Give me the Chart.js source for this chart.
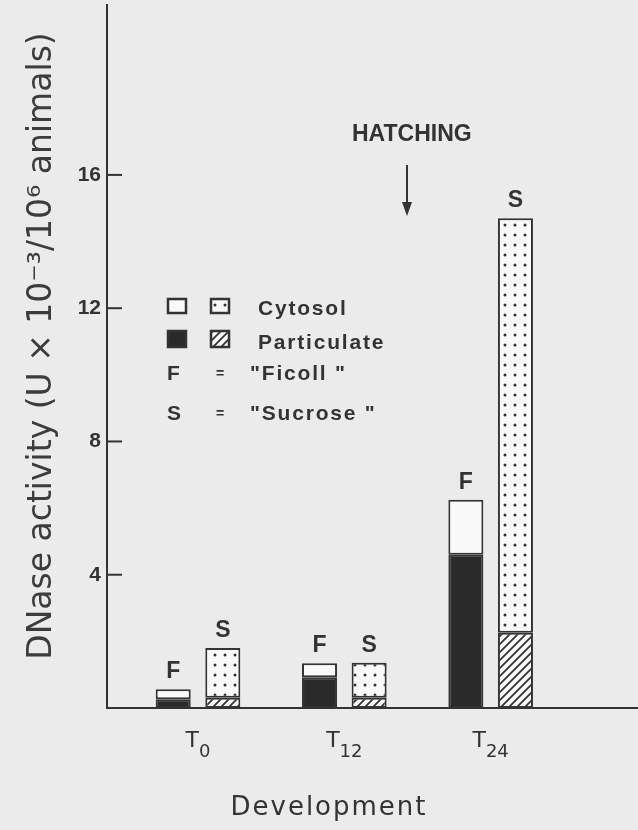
<!DOCTYPE html>
<html lang="en">
<head>
<meta charset="UTF-8">
<title>DNase activity during development</title>
<script src="https://cdn.jsdelivr.net/npm/chart.js"></script>
<style>
  body { margin: 0; background: #ebebeb; }
  canvas { display: block; }
</style>
</head>
<body>
<canvas id="dnaseChart" width="638" height="830"></canvas>
<script>
// stages on the x axis (T + subscript)
const stages = ['T0', 'T12', 'T24'];
// DNase activity, U x 10^-3 / 10^6 animals
const ficollParticulate = [0.26, 0.92, 4.6];
const ficollCytosol = [0.30, 0.42, 1.65];
const sucroseParticulate = [0.31, 0.31, 2.26];
const sucroseCytosol = [1.49, 1.05, 12.44];
const yTicks = [4, 8, 12, 16];

const ink = '#333';
const canvas = document.getElementById('dnaseChart');
const ctx = canvas.getContext('2d');

function dotPattern() {
  const c = document.createElement('canvas');
  c.width = 10; c.height = 10;
  const g = c.getContext('2d');
  g.fillStyle = '#f9f9f9';
  g.fillRect(0, 0, 10, 10);
  g.fillStyle = ink;
  g.beginPath();
  g.arc(5, 5, 1.5, 0, Math.PI * 2);
  g.fill();
  return ctx.createPattern(c, 'repeat');
}

function hatchPattern() {
  const s = 8;
  const c = document.createElement('canvas');
  c.width = s; c.height = s;
  const g = c.getContext('2d');
  g.fillStyle = '#f9f9f9';
  g.fillRect(0, 0, s, s);
  g.strokeStyle = ink;
  g.lineWidth = 1.8;
  g.beginPath();
  g.moveTo(0, s); g.lineTo(s, 0);
  g.moveTo(-2, 2); g.lineTo(2, -2);
  g.moveTo(s - 2, s + 2); g.lineTo(s + 2, s - 2);
  g.stroke();
  return ctx.createPattern(c, 'repeat');
}

const dots = dotPattern();
const hatch = hatchPattern();

const toPoints = arr => arr.map((v, i) => ({ x: i, y: v }));

function barSet(label, data, stack, fill) {
  return {
    label: label,
    data: toPoints(data),
    stack: stack,
    backgroundColor: fill,
    borderColor: ink,
    borderWidth: 2,
    borderSkipped: false
  };
}

function txt(text, x, y, font, align, spacing) {
  ctx.font = font;
  ctx.textAlign = align || 'left';
  ctx.letterSpacing = spacing || '0px';
  ctx.fillText(text, x, y);
}

// no extra padding from tick labels, the plot box is fixed by the layout
function noPad(s) {
  s.paddingTop = 0; s.paddingBottom = 0;
  s.paddingLeft = 0; s.paddingRight = 0;
}

const extras = {
  id: 'extras',
  afterDraw(chart) {
    const xs = chart.scales.x, ys = chart.scales.y;
    ctx.save();
    ctx.strokeStyle = ink;
    ctx.fillStyle = ink;
    ctx.lineWidth = 2;
    ctx.textBaseline = 'alphabetic';

    // tick marks pointing into the plot
    yTicks.forEach(v => {
      const py = ys.getPixelForValue(v);
      ctx.beginPath();
      ctx.moveTo(xs.left, py);
      ctx.lineTo(xs.left + 15, py);
      ctx.stroke();
    });

    // stage labels T0, T12, T24 with subscripts
    stages.forEach((s, i) => {
      const cx = xs.getPixelForValue(i);
      ctx.letterSpacing = '0px';
      ctx.font = '22px "DejaVu Sans"';
      const wT = ctx.measureText('T').width;
      ctx.font = '18px "DejaVu Sans"';
      const wS = ctx.measureText(s.slice(1)).width;
      const x0 = cx - (wT + wS) / 2;
      txt('T', x0, 747, '22px "DejaVu Sans"');
      txt(s.slice(1), x0 + wT, 757, '18px "DejaVu Sans"');
    });

    // F / S letters over each column
    [[1, 'F'], [3, 'S']].forEach(([di, letter]) => {
      chart.getDatasetMeta(di).data.forEach(bar => {
        txt(letter, bar.x, bar.y - 11, 'bold 23px "Liberation Sans"', 'center');
      });
    });

    txt('Development', 329, 815, '26px "DejaVu Sans"', 'center', '2px');

    // hatching marker
    txt('HATCHING', 352, 141, 'bold 23px "Liberation Sans"', 'left');
    ctx.beginPath();
    ctx.moveTo(407, 165);
    ctx.lineTo(407, 212);
    ctx.stroke();
    ctx.beginPath();
    ctx.moveTo(402, 202);
    ctx.lineTo(407, 216);
    ctx.lineTo(412, 202);
    ctx.closePath();
    ctx.fill();

    // legend
    ctx.lineWidth = 2.5;
    ctx.fillStyle = '#f9f9f9';
    ctx.fillRect(168, 299, 18, 14);
    ctx.strokeRect(168, 299, 18, 14);
    ctx.fillStyle = dots;
    ctx.fillRect(211, 299, 18, 14);
    ctx.strokeRect(211, 299, 18, 14);
    ctx.fillStyle = '#2a2a2a';
    ctx.fillRect(168, 331, 18, 16);
    ctx.strokeRect(168, 331, 18, 16);
    ctx.fillStyle = hatch;
    ctx.fillRect(211, 331, 18, 16);
    ctx.strokeRect(211, 331, 18, 16);

    ctx.fillStyle = ink;
    const lf = 'bold 21px "Liberation Sans"';
    txt('Cytosol', 258, 315, lf, 'left', '1.8px');
    txt('Particulate', 258, 349, lf, 'left', '1.8px');
    txt('F', 167, 380, lf, 'left');
    txt('=', 220, 378, 'bold 14px "Liberation Sans"', 'center');
    txt('"Ficoll "', 250, 380, lf, 'left', '1.8px');
    txt('S', 167, 420, lf, 'left');
    txt('=', 220, 418, 'bold 14px "Liberation Sans"', 'center');
    txt('"Sucrose "', 250, 420, lf, 'left', '1.8px');

    ctx.restore();
  }
};

new Chart(ctx, {
  type: 'bar',
  data: {
    datasets: [
      barSet('Particulate (Ficoll)', ficollParticulate, 'F', '#2a2a2a'),
      barSet('Cytosol (Ficoll)', ficollCytosol, 'F', '#f9f9f9'),
      barSet('Particulate (Sucrose)', sucroseParticulate, 'S', hatch),
      barSet('Cytosol (Sucrose)', sucroseCytosol, 'S', dots)
    ]
  },
  options: {
    responsive: false,
    animation: false,
    categoryPercentage: 0.678,
    barPercentage: 0.706,
    layout: { padding: { top: 5, right: 0, left: 0, bottom: 0 } },
    plugins: {
      legend: { display: false },
      tooltip: { enabled: false }
    },
    scales: {
      x: {
        type: 'linear',
        offset: false,
        min: -0.622,
        max: 3.007,
        afterBuildTicks: s => { s.ticks = stages.map((_, i) => ({ value: i })); },
        afterFit: s => { s.height = 122; noPad(s); },
        ticks: { display: false },
        grid: { display: false, offset: false, drawTicks: false },
        border: { color: ink, width: 2 }
      },
      y: {
        stacked: true,
        min: 0,
        max: 21.1,
        afterBuildTicks: s => { s.ticks = yTicks.map(v => ({ value: v })); },
        afterFit: s => { s.width = 107; noPad(s); },
        ticks: {
          color: ink,
          padding: 6,
          font: { family: 'Liberation Sans', size: 21, weight: 'bold' }
        },
        grid: { display: false, drawTicks: false },
        border: { color: ink, width: 2 },
        title: {
          display: true,
          text: '  DNase activity (U × 10⁻³/10⁶ animals)',
          color: '#3c3c3c',
          padding: { top: 23 },
          font: { family: 'DejaVu Sans', size: 33 }
        }
      }
    }
  },
  plugins: [extras]
});
</script>
</body>
</html>
